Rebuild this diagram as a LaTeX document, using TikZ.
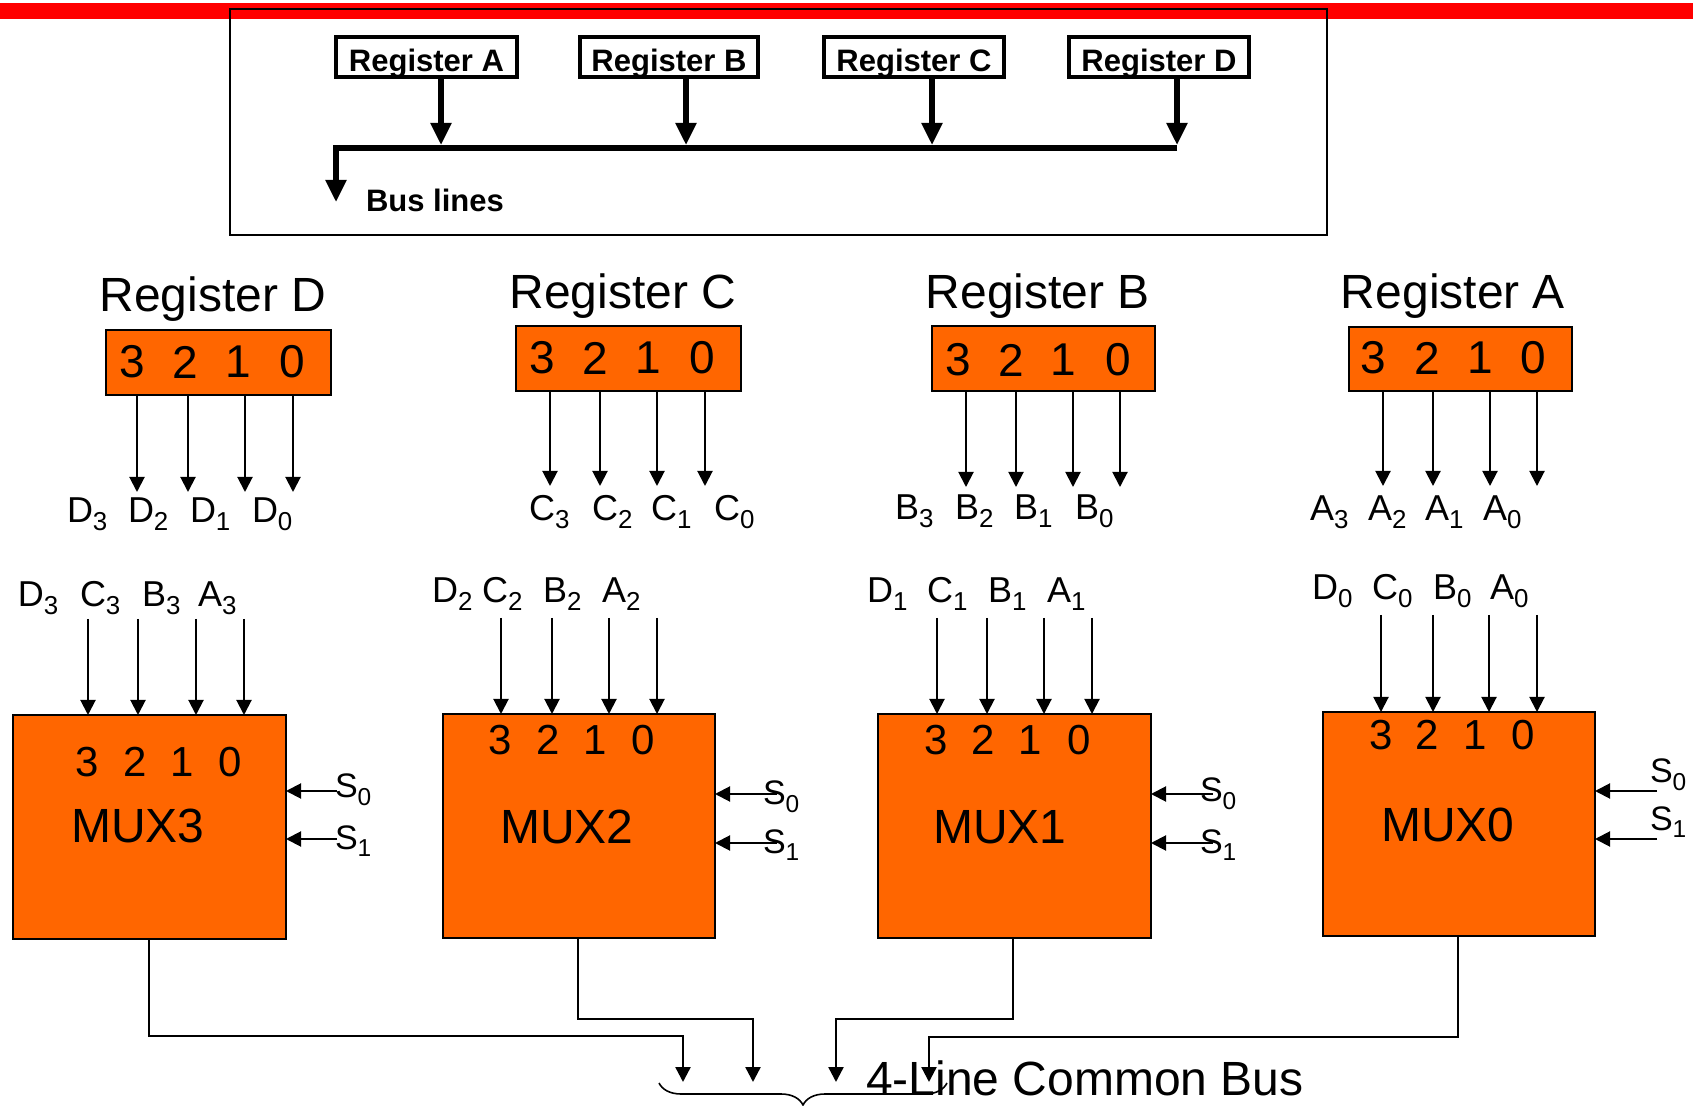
\documentclass[tikz,border=0pt]{standalone}
\usepackage{fontspec}
\usepackage{graphicx}
\setmainfont{Liberation Sans}
\usetikzlibrary{arrows.meta,fit,decorations.pathreplacing}
\definecolor{muxorange}{HTML}{FF6600}
\definecolor{barred}{HTML}{FF0000}
\newcommand\fsz[1]{\fontsize{#1}{#1}\selectfont}
\newcommand\idx[1]{\raisebox{-0.22em}{\scalebox{0.72}{#1}}}

\begin{document}
\begin{tikzpicture}[x=0.5pt,y=-0.5pt,
  textnode/.style={inner sep=0pt,outer sep=0pt},
  frame/.style={draw=black,line width=1pt,inner sep=0pt,outer sep=0pt},
  topreg/.style={draw=black,line width=1.8pt,inner sep=0pt,outer sep=0pt},
  toptext/.style={textnode,font=\bfseries\fsz{15.5pt}},
  busarrow/.style={line width=2.6pt,-{Triangle[width=10pt,length=11pt]}},
  regbox/.style={draw=black,line width=1pt,fill=muxorange,inner sep=0pt,outer sep=0pt},
  muxbox/.style={regbox},
  regtitle/.style={textnode,font=\fsz{24pt}},
  regdigit/.style={textnode,font=\fsz{23pt}},
  muxdigit/.style={textnode,font=\fsz{21pt}},
  muxname/.style={textnode,font=\fsz{24pt}},
  bitlabel/.style={textnode,font=\fsz{18pt}},
  sellabel/.style={textnode,font=\fsz{17pt}},
  bustext/.style={textnode,font=\fsz{24pt}},
  thinarrow/.style={line width=1pt,-{Triangle[width=7.5pt,length=7.5pt]}},
  routearrow/.style={line width=1.2pt,-{Triangle[width=7.5pt,length=7.5pt]}},
]
\useasboundingbox (0,0) rectangle (1693,1106);

% ---------- heading strip and bus-structure frame ----------
\fill[barred] (0,3) rectangle (1693,19);
\node[frame,fit={(230,9) (1327,235)}] (frame) {};

\foreach \r/\xl/\xr/\ax in {A/336/517/441, B/580/758/686, C/824/1004/932, D/1069/1249/1177} {
  \node[topreg,fit={(\xl,37) (\xr,77)}] (top\r) {};
  \node[toptext,anchor=base] (top\r txt) at ({(\xl+\xr)/2},72) {Register \r};
  \coordinate (bus\r) at (\ax,145);
  \draw[busarrow] (bus\r |- top\r.south) -- (bus\r);
}
\coordinate (busW) at (336,148);
\coordinate (busE) at (1177,148);
\coordinate (busout) at (336,202);
\draw[busarrow] (busE) -- (busW) -- (busout);
\node[toptext,anchor=base west] (buslabel) at (366,212) {Bus lines};

% ---------- the four registers ----------
\foreach \r/\xl/\yt/\xr/\yb/\tx/\ty in {D/106/330/331/395/213/312, C/516/326/741/391/623/309,
    B/932/326/1155/391/1038/309, A/1349/327/1572/391/1453/309} {
  \node[regbox,fit={(\xl,\yt) (\xr,\yb)}] (reg\r) {};
  \node[regtitle,anchor=base] (reg\r title) at (\tx,\ty) {Register \r};
}
% bit numbers inside the registers
\foreach \r/\cy/\xa/\xb/\xc/\xd in {D/362/132/185/238/292, C/358/542/595/648/702,
    B/360/958/1011/1063/1118, A/358/1373/1427/1480/1533}
  \foreach \p/\px in {3/\xa,2/\xb,1/\xc,0/\xd}
    \node[regdigit] (reg\r bit\p) at (\px,\cy) {\p};
% register outputs
\foreach \r/\tip/\xa/\xb/\xc/\xd in {D/492/137/188/245/293, C/486/550/600/657/705,
    B/487/966/1016/1073/1120, A/486/1383/1433/1490/1537}
  \foreach \p/\px in {3/\xa,2/\xb,1/\xc,0/\xd} {
    \coordinate (out\r\p) at (\px,\tip);
    \draw[thinarrow] (out\r\p |- reg\r.south) -- (out\r\p);
  }
% output names
\foreach \r/\yb/\xa/\xb/\xc/\xd in {D/523/67/128/190/252, C/521/529/592/651/714,
    B/520/895/955/1014/1075, A/521/1310/1368/1425/1483}
  \foreach \p/\px in {3/\xa,2/\xb,1/\xc,0/\xd}
    \node[bitlabel,anchor=base west] (bit\r\p) at (\px,\yb) {\r\idx{\p}};

% ---------- the four multiplexers ----------
\foreach \m/\xl/\yt/\xr/\yb/\nx/\ny in {3/13/715/286/939/138/826, 2/443/714/715/938/567/827,
    1/878/714/1151/938/1000/827, 0/1323/712/1595/936/1448/825} {
  \node[muxbox,fit={(\xl,\yt) (\xr,\yb)}] (mux\m) {};
  \node[muxname] (mux\m name) at (\nx,\ny) {MUX\m};
}
% input numbers
\foreach \m/\cy/\xa/\xb/\xc/\xd in {3/762/87/135/182/230, 2/740/500/548/595/643,
    1/740/936/983/1030/1079, 0/735/1381/1427/1475/1523}
  \foreach \p/\px in {3/\xa,2/\xb,1/\xc,0/\xd}
    \node[muxdigit] (mux\m bit\p) at (\px,\cy) {\p};
% data inputs
\foreach \m/\ys/\xa/\xb/\xc/\xd in {3/619/88/138/196/244, 2/618/501/552/609/657,
    1/618/937/987/1044/1092, 0/615/1381/1433/1489/1537}
  \foreach \p/\px in {3/\xa,2/\xb,1/\xc,0/\xd} {
    \coordinate (mux\m in\p) at (\px,\ys);
    \draw[thinarrow] (mux\m in\p) -- (mux\m in\p |- mux\m.north);
  }
\foreach \m/\yb/\xa/\xb/\xc/\xd in {3/607/18/80/142/198, 2/603/432/482/543/602,
    1/603/867/927/988/1047, 0/600/1312/1372/1433/1490}
  \foreach \r/\px in {D/\xa,C/\xb,B/\xc,A/\xd}
    \node[bitlabel,anchor=base west] (in\r\m) at (\px,\yb) {\r\idx{\m}};
% select inputs
\foreach \m/\xs/\ya/\yb/\lx/\la/\lb in {3/337/791/839/335/798/849, 2/777/794/843/763/805/853,
    1/1213/794/843/1200/802/853, 0/1657/791/839/1650/783/830} {
  \coordinate (selA\m) at (\xs,\ya);
  \coordinate (selB\m) at (\xs,\yb);
  \draw[thinarrow] (selA\m) -- (selA\m -| mux\m.east);
  \draw[thinarrow] (selB\m) -- (selB\m -| mux\m.east);
  \node[sellabel,anchor=base west] (selA\m lab) at (\lx,\la) {S\idx{0}};
  \node[sellabel,anchor=base west] (selB\m lab) at (\lx,\lb) {S\idx{1}};
}

% ---------- outputs onto the common bus ----------
\foreach \m/\ox/\oy/\bx in {3/149/1036/683, 2/578/1019/753, 1/1013/1019/836, 0/1458/1037/929} {
  \coordinate (bend\m) at (\ox,\oy);
  \coordinate (line\m) at (\bx,1082);
  \draw[routearrow] (mux\m.south -| bend\m) -- (bend\m) -| (line\m);
}
\coordinate (braceW) at (659,1083);
\coordinate (braceE) at (947,1083);
\draw[line width=0.8pt,decorate,decoration={brace,mirror,amplitude=11pt}] (braceW) -- (braceE);
\node[bustext,anchor=base west] (commonbus) at (866,1095) {4-Line Common Bus};
\end{tikzpicture}
\end{document}
